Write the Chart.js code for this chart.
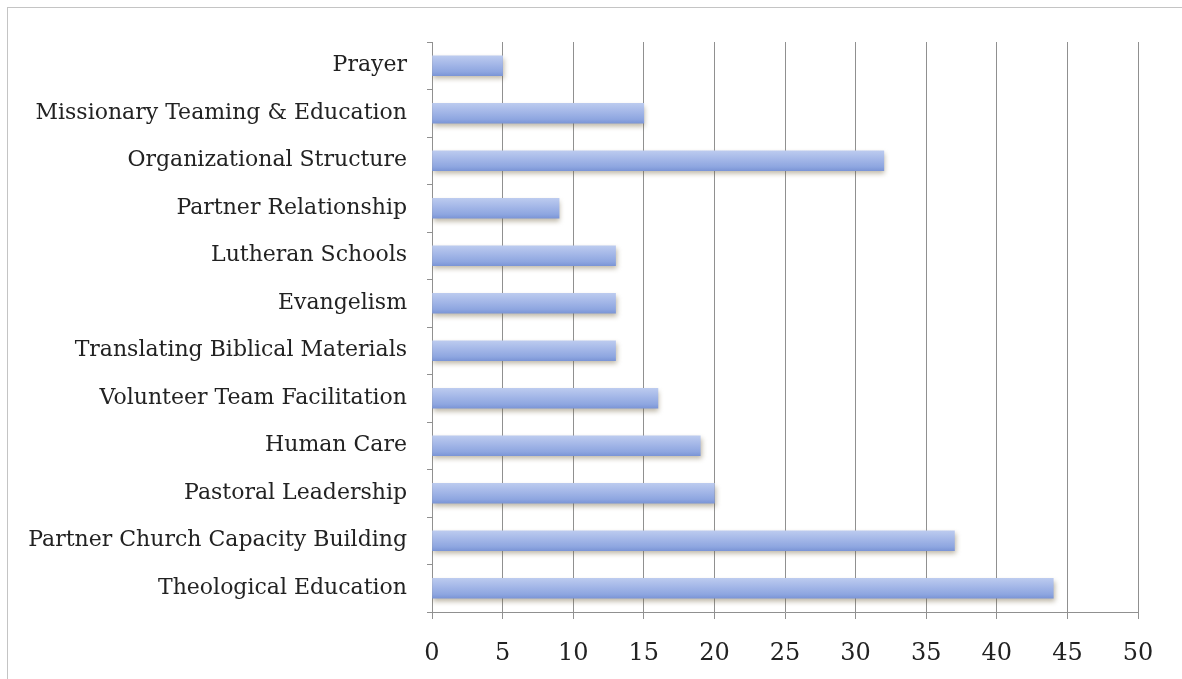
<!DOCTYPE html>
<html>
<head>
<meta charset="utf-8">
<script src="https://cdn.jsdelivr.net/npm/chart.js@4"></script>
<style>
html,body{margin:0;padding:0;background:#fff;}
#wrap{position:absolute;left:0;top:0;width:1182px;height:679px;}
#frame{position:absolute;left:7px;top:7px;width:1180px;height:671px;border-left:1px solid #c4c4c4;border-top:1px solid #c4c4c4;border-bottom:1px solid #d8d8d8;}
canvas{position:absolute;left:0;top:0;}
</style>
</head>
<body>
<div id="wrap">
<div id="frame"></div>
<canvas id="c" width="1182" height="679"></canvas>
</div>
<script>
const categories = [
  "Prayer",
  "Missionary Teaming & Education",
  "Organizational Structure",
  "Partner Relationship",
  "Lutheran Schools",
  "Evangelism",
  "Translating Biblical Materials",
  "Volunteer Team Facilitation",
  "Human Care",
  "Pastoral Leadership",
  "Partner Church Capacity Building",
  "Theological Education"
];
const counts = [5, 15, 32, 9, 13, 13, 13, 16, 19, 20, 37, 44];
const xTicks = [0, 5, 10, 15, 20, 25, 30, 35, 40, 45, 50];

const FONT = "'DejaVu Serif', serif";
const BAR_H = 20;

function barFill(context) {
  const chart = context.chart;
  const ys = chart.scales.y;
  if (!ys || context.dataIndex === undefined) return '#9cb1e6';
  const yc = ys.getPixelForValue(context.dataIndex);
  if (!isFinite(yc)) return '#9cb1e6';
  const g = chart.ctx.createLinearGradient(0, yc - BAR_H / 2, 0, yc + BAR_H / 2);
  g.addColorStop(0, '#bccbef');
  g.addColorStop(0.4, '#a5b8e8');
  g.addColorStop(0.8, '#8ea6e0');
  g.addColorStop(1, '#7b95d6');
  return g;
}

const shadowPlugin = {
  id: 'shadow',
  beforeDatasetsDraw(chart) {
    const ctx = chart.ctx;
    ctx.save();
    ctx.shadowColor = 'rgba(110,95,60,0.45)';
    ctx.shadowBlur = 5;
    ctx.shadowOffsetX = 1;
    ctx.shadowOffsetY = 3;
  },
  afterDatasetsDraw(chart) {
    chart.ctx.restore();
  }
};

new Chart(document.getElementById('c'), {
  type: 'bar',
  data: {
    labels: categories,
    datasets: [{
      data: counts,
      backgroundColor: barFill,
      borderWidth: 0,
      barThickness: BAR_H
    }]
  },
  options: {
    indexAxis: 'y',
    responsive: false,
    animation: false,
    layout: { padding: { top: 42, right: 44, left: 0, bottom: 0 } },
    plugins: { legend: { display: false }, tooltip: { enabled: false } },
    scales: {
      x: {
        min: 0, max: 50,
        afterFit(s) { s.height = 67; },
        afterBuildTicks(s) { s.ticks = xTicks.map(v => ({ value: v })); },
        border: { color: '#909090', width: 1 },
        grid: { color: '#909090', lineWidth: 1, drawTicks: true, tickLength: 7, tickColor: '#909090' },
        ticks: { font: { family: FONT, size: 24 }, color: '#222', padding: 20 }
      },
      y: {
        afterFit(s) { s.width = 432; },
        border: { color: '#909090', width: 1 },
        grid: { drawOnChartArea: false, drawTicks: true, tickLength: 5, tickColor: '#909090', offset: true },
        ticks: { font: { family: FONT, size: 22 }, color: '#222', padding: 20, autoSkip: false }
      }
    }
  },
  plugins: [shadowPlugin]
});
</script>
</body>
</html>
